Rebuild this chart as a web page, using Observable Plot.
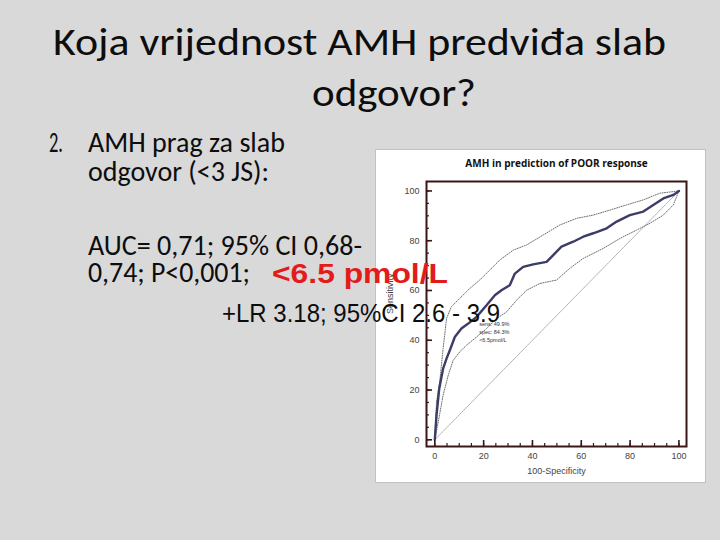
<!DOCTYPE html>
<html>
<head>
<meta charset="utf-8">
<script src="https://cdn.jsdelivr.net/npm/d3@7"></script>
<script src="https://cdn.jsdelivr.net/npm/@observablehq/plot@0.6"></script>
<style>
html, body { margin: 0; padding: 0; }
body { width: 720px; height: 540px; background: #d9d9d9; position: relative; overflow: hidden; }
#chart { position: absolute; left: 376px; top: 150px; width: 329px; height: 332px; background: #fff; outline: 1px solid #c2c2c2; }
#chart svg { display: block; }
#slide { position: absolute; left: 0; top: 0; pointer-events: none; }
</style>
</head>
<body>
<div id="chart"></div>
<svg id="slide" width="720" height="540"></svg>
<script>
// ---- chart data ----
const mainFpr  = [0, 0.7, 1.8, 3.4, 4.8, 6.4, 8.2, 10.9, 13.7, 17.1, 21.2, 24.6, 27.3, 30.7, 32.8, 36.2, 40.3, 45.8, 48.5, 51.9, 56.7, 60.8, 64.9, 70.4, 74.5, 79.9, 85.4, 89.5, 93.6, 97.7, 100];
const mainSens = [0, 9.8, 20.5, 28.6, 32.6, 36.6, 41.3, 44.7, 46.7, 49.4, 54.1, 58.1, 60.1, 62.1, 66.8, 69.5, 70.5, 71.5, 74.2, 77.6, 79.6, 81.6, 83.0, 85.0, 87.7, 90.3, 91.7, 94.4, 97.0, 98.4, 100];
const upperFpr  = [0, 0.7, 2.0, 3.4, 4.8, 6.8, 10.2, 14.3, 18.4, 22.5, 26.6, 32.1, 37.6, 44.4, 51.2, 58.1, 64.9, 71.7, 78.6, 85.4, 92.2, 100];
const upperSens = [0, 15.2, 23.2, 36.6, 48.7, 53.5, 56.8, 60.8, 64.2, 68.2, 72.2, 76.2, 78.3, 82.3, 86.3, 89.0, 90.3, 92.3, 94.4, 96.4, 99.1, 100];
const lowerFpr  = [0, 1.4, 3.4, 5.5, 7.5, 10.2, 13.0, 17.1, 21.2, 25.3, 29.4, 33.5, 37.6, 43.0, 49.9, 55.3, 60.8, 69.0, 75.8, 82.7, 88.1, 93.6, 97.7, 100];
const lowerSens = [0, 7.1, 17.9, 25.9, 31.9, 35.3, 38.0, 41.3, 44.7, 48.7, 51.4, 56.1, 60.1, 62.8, 64.2, 68.9, 72.9, 76.9, 80.9, 84.3, 87.0, 90.3, 94.4, 100];
const diagFpr  = [0, 100];
const diagSens = [0, 100];
const majorTicks = [0, 20, 40, 60, 80, 100];
const minorTicks = [0, 5, 10, 15, 20, 25, 30, 35, 40, 45, 50, 55, 60, 65, 70, 75, 80, 85, 90, 95, 100];
const cutSens = [49.9];
const cutSpec = [84.3];
const cutLabel = ["<6.5pmol/L"];
const chartTitle = "AMH in prediction of POOR response";
const xLabel = "100-Specificity";
const yLabel = "Sensitivity";

// ---- slide texts ----
const titleLines = ["Koja vrijednost AMH predviđa slab", "odgovor?"];
const bulletNum = "2.";
const bodyLines = ["AMH prag za slab", "odgovor (<3 JS):", "AUC= 0,71; 95% CI 0,68-", "0,74; P<0,001;"];
const redText = "<6.5 pmol/L";
const lrText = "+LR 3.18; 95%CI 2.6 - 3.9";

const toRows = (xs, ys) => xs.map((x, i) => ({x, y: ys[i]}));
const main = toRows(mainFpr, mainSens);
const upper = toRows(upperFpr, upperSens);
const lower = toRows(lowerFpr, lowerSens);
const diag = toRows(diagFpr, diagSens);
const cut = cutSens.map((s, i) => ({x: 100 - cutSpec[i], y: s,
  label: `sens: ${s.toFixed(1)}%\nspec: ${cutSpec[i].toFixed(1)}%\n${cutLabel[i]}`}));

const frameColor = "#3a1616";
const chart = Plot.plot({
  width: 329, height: 332,
  marginLeft: 50, marginRight: 19, marginTop: 31, marginBottom: 36,
  style: {background: "#fff", fontFamily: "'Liberation Sans', Arial, sans-serif", fontSize: "9px", color: "#444", overflow: "visible"},
  x: {domain: [-3.4, 103.1]},
  y: {domain: [-2.7, 103.8]},
  marks: [
    Plot.line(diag, {x: "x", y: "y", stroke: "#8c8c8c", strokeWidth: 0.7, strokeDasharray: "2,1"}),
    Plot.line(upper, {x: "x", y: "y", stroke: "#6e6e6e", strokeWidth: 1, strokeDasharray: "1,1.4"}),
    Plot.line(lower, {x: "x", y: "y", stroke: "#6e6e6e", strokeWidth: 1, strokeDasharray: "1,1.4"}),
    Plot.line(main, {x: "x", y: "y", stroke: "#3c3c68", strokeWidth: 2.4, strokeLinejoin: "miter"}),
    Plot.text(cut, {x: "x", y: "y", text: "label", textAnchor: "start", lineAnchor: "top", dx: 6, dy: 5, fontSize: 5.5, lineHeight: 1.45, fill: "#333"}),
    Plot.frame({stroke: frameColor, strokeWidth: 2}),
    // inward ticks: outward tick shifted back inside the frame
    Plot.axisX(minorTicks, {anchor: "bottom", tickSize: 3, dy: -3, fill: "none", label: null, stroke: frameColor, strokeWidth: 1.2}),
    Plot.axisX(majorTicks, {anchor: "bottom", tickSize: 6, dy: -6, fill: "none", label: null, stroke: frameColor, strokeWidth: 1.6}),
    Plot.axisX(majorTicks, {anchor: "bottom", tickSize: 0, tickPadding: 6, label: null, fill: "#444"}),
    Plot.axisY(minorTicks, {anchor: "left", tickSize: 3, dx: 3, fill: "none", label: null, stroke: frameColor, strokeWidth: 1.2}),
    Plot.axisY(majorTicks, {anchor: "left", tickSize: 6, dx: 6, fill: "none", label: null, stroke: frameColor, strokeWidth: 1.6}),
    Plot.axisY(majorTicks, {anchor: "left", tickSize: 0, tickPadding: 7, label: null, fill: "#444"}),
    Plot.text([xLabel], {frameAnchor: "bottom", dy: 25, lineAnchor: "middle", fontSize: 9, fill: "#444"}),
    Plot.text([yLabel], {frameAnchor: "left", dx: -36, rotate: -90, lineAnchor: "middle", fontSize: 9, fill: "#444"}),
    Plot.text([chartTitle], {frameAnchor: "top", dy: -14.5, lineAnchor: "bottom", fontSize: 10, fontWeight: "bold", fontFamily: "'Open Sans', sans-serif", fill: "#111"})
  ]
});
document.getElementById("chart").appendChild(chart);

// ---- slide text layer ----
const slide = d3.select("#slide");
const bodyFont = "Carlito, Lato, 'Open Sans', sans-serif";
function put(txt, x, y, len, size, opts = {}) {
  const t = slide.append("text")
    .attr("x", x).attr("y", y)
    .attr("font-size", size)
    .attr("font-family", opts.family || bodyFont)
    .attr("font-weight", opts.weight || "normal")
    .attr("fill", opts.fill || "#0d0d0d")
    .text(txt);
  if (len) t.attr("textLength", len).attr("lengthAdjust", "spacingAndGlyphs");
  return t;
}
put(titleLines[0], 53, 55, 613, 39);
put(titleLines[1], 312, 106, 164, 39);
put(bulletNum, 49, 152, 14, 28.5);
put(bodyLines[0], 88, 152, 197, 28.5);
put(bodyLines[1], 88, 181, 181, 28.5);
put(bodyLines[2], 88, 255, 274, 28.5);
put(bodyLines[3], 88, 282, 162, 28.5);
put(redText, 272, 283, 176, 28, {family: "'Liberation Sans', Arial, sans-serif", weight: "bold", fill: "#e21b1b"});
put(lrText, 222, 322, 278, 25, {family: "'Liberation Sans', Arial, sans-serif"});
</script>
</body>
</html>
